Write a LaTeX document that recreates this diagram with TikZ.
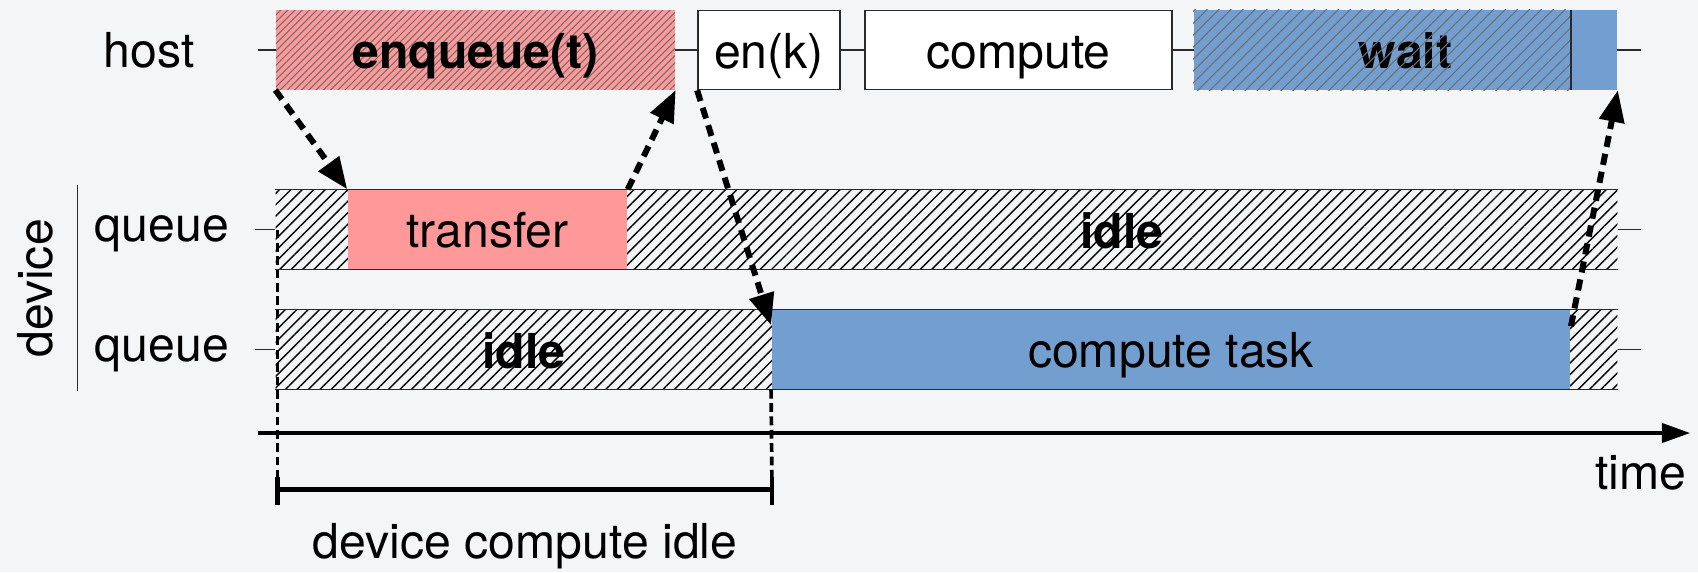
\documentclass[tikz,border=0pt]{standalone}
\usepackage{fontspec}
\setmainfont{TeX Gyre Heros}
\usetikzlibrary{arrows.meta,patterns.meta,calc}
\definecolor{bgc}{HTML}{F4F5F7}
\definecolor{pinkc}{HTML}{FF9999}
\definecolor{bluec}{HTML}{729FCF}
\definecolor{hatchg}{HTML}{6E6E6E}
\definecolor{rulec}{HTML}{2A2A2A}
\begin{document}
\begin{tikzpicture}[x=0.01cm,y=-0.01cm,
  txt/.style={font=\fontsize{13.7pt}{16pt}\selectfont, inner sep=0pt},
  slot/.style={txt, minimum height=0.79cm, text height=0.36cm, text depth=0pt},
  hosthatch/.style={pattern={Lines[angle=45,distance=#1,line width=0.3pt]}, pattern color=hatchg},
  devhatch/.style={pattern={Lines[angle=45,distance=2.3pt,line width=0.4pt]}, pattern color=black},
  thinrule/.style={line width=0.4pt, draw=rulec},
  flow/.style={line width=1.7pt, dash pattern=on 3.2pt off 2pt, -{Triangle[length=9pt,width=7pt]}},
  guide/.style={line width=1.05pt, dash pattern=on 2.5pt off 1.3pt},
  span/.style={line width=1.2pt}
]
\fill[bgc] (0,0) rectangle (1698,572);
\useasboundingbox (0,0) rectangle (1698,572);

% ---- device queues ----
\node[txt, minimum width=13.41cm, minimum height=0.79cm, devhatch] (q1) at (946.5,229.5) {};
\node[txt, minimum width=13.41cm, minimum height=0.79cm, devhatch] (q2) at (946.5,349.5) {};
\draw[thinrule] (q1.north west) -- (q1.north east) (q1.south west) -- (q1.south east);
\draw[thinrule] (q2.north west) -- (q2.north east) (q2.south west) -- (q2.south east);
\coordinate (q1l) at (255,229.5);
\coordinate (q1r) at (1641,229.5);
\coordinate (q2l) at (255,349.5);
\coordinate (q2r) at (1641,349.5);
\draw[thinrule] (q1l) -- (q1.west) (q1.east) -- (q1r);
\draw[thinrule] (q2l) -- (q2.west) (q2.east) -- (q2r);

\node[slot, minimum width=2.79cm, fill=pinkc] (xfer) at (487.5,229.5) {transfer};
\node[slot, minimum width=7.98cm, fill=bluec] (ctask) at (1171,349.5) {compute task};
\node[txt, anchor=base] (idle1) at (1122,248) {\bfseries idle};
\node[txt, anchor=base] (idle2) at (524,368) {\bfseries idle};

\node[txt, anchor=base] (qlbl1) at (162,241) {queue};
\node[txt, anchor=base] (qlbl2) at (162,361) {queue};
\node[txt, anchor=base, rotate=90] (devlbl) at (52,288.5) {device};
\coordinate (bar0) at (77.5,185);
\coordinate (bar1) at (77.5,391);
\draw[thinrule] (bar0) -- (bar1);

% ---- host timeline ----
\coordinate (h0) at (258,50);
\coordinate (h1) at (1641,50);
\draw[thinrule] (h0) -- (h1);
\node[txt, anchor=base] (hostlbl) at (149,67) {host};

\node[slot, minimum width=3.99cm, preaction={fill=pinkc}, hosthatch=1.45pt] (enq) at (475.5,50) {\bfseries enqueue(t)};
\node[slot, minimum width=1.42cm, fill=white, draw=rulec, line width=0.45pt] (enk) at (769,50) {en(k)};
\node[slot, minimum width=3.07cm, fill=white, draw=rulec, line width=0.45pt] (comp) at (1018.5,50) {compute};
\node[slot, minimum width=4.23cm, fill=bluec] (wait) at (1405.5,50) {\bfseries wait};
\fill[hosthatch=2.4pt] (wait.north west) rectangle (wait.south -| ctask.east);
\draw[rulec, line width=0.45pt] (wait.north -| ctask.east) -- (wait.south -| ctask.east);

% ---- dependencies ----
\draw[flow] (enq.south west) -- (xfer.north west);
\draw[flow] (xfer.north east) -- (enq.south east);
\draw[flow] (enk.south west) -- ($(ctask.north west)+(0,16)$);
\draw[flow] ($(ctask.north east)+(0,17)$) -- (wait.south east);

% ---- time axis ----
\coordinate (t0) at (258,433);
\coordinate (t1) at (1690,433);
\draw[line width=0.9pt, -{Triangle[length=8pt,width=5.5pt]}] (t0) -- (t1);
\node[txt, anchor=base east] (timelbl) at (1687,489) {time};

% ---- idle span ----
\coordinate (brkL) at (277.5,489.5);
\coordinate (brkR) at (772,489.5);
\draw[guide] (brkL |- q1.west) -- (brkL);
\draw[guide] (ctask.south west) -- (brkR);
\draw[span] (brkL) -- (brkR);
\draw[span] ($(brkL)+(0,-13)$) -- ($(brkL)+(0,15)$);
\draw[span] ($(brkR)+(0,-13)$) -- ($(brkR)+(0,15)$);
\node[txt, anchor=base] (idlespan) at (525,558) {device compute idle};
\end{tikzpicture}
\end{document}
